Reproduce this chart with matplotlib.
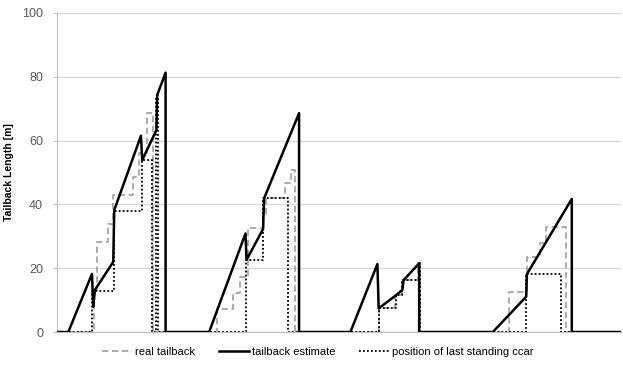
import numpy as np
import matplotlib
matplotlib.use("Agg")
import matplotlib.pyplot as plt

plt.rcParams['font.family'] = ['Liberation Sans', 'DejaVu Sans']

# tailback estimate (piecewise linear, time step / metres)
est_t = [0, 11.3, 35, 36.3, 38, 56.3, 57.3, 84, 85.3, 99.5, 100.3, 108.7, 108.7,
         152.3, 188.7, 189.7, 206.3, 207.3, 242.3, 242.3,
         293.7, 320.7, 322, 339.7, 345.7, 347, 362.5, 362.5,
         436.3, 469.7, 470.3, 515.3, 515.3, 565]
est_v = [0, 0, 18.2, 7.9, 13.2, 22, 38.2, 61.5, 53.9, 63.3, 74.3, 81.3, 0,
         0, 30.9, 22.6, 32.3, 41.9, 68.6, 0,
         0, 21.3, 7.4, 11.6, 13.2, 16.3, 21.5, 0,
         0, 11.1, 18.1, 41.7, 0, 0]

# position of last standing car (steps)
pos_t = [0, 35.3, 57, 84.7, 95.5, 98.8, 100.8, 188.7, 206.3, 231.3,
         322, 339.7, 345.7, 362.3, 363, 469.7, 504, 565]
pos_v = [0, 12.9, 38, 54, 0, 74, 0, 22.6, 42, 0,
         7.4, 11.6, 16.3, 22, 0, 18.1, 0, 0]

# real tailback (steps)
real_t = [0, 37, 40, 51.3, 56.5, 76.3, 82, 89.7, 96.3,
          159.7, 176.3, 183, 191.3, 206.3, 209, 228, 234.7, 238,
          322, 338, 345, 361, 363,
          452, 470, 483, 489.7, 509.7, 565]
real_v = [0, 13.2, 28.3, 34, 43, 48.7, 56, 68.6, 0,
          7.2, 12.1, 17.3, 32.5, 37, 42, 46.6, 50.8, 0,
          7.4, 11.6, 16.3, 21.5, 0,
          12.6, 23.6, 28, 33, 0, 0]

fig = plt.figure(figsize=(6.23, 3.65), dpi=100)
ax = fig.add_axes([0.0915, 0.0904, 0.906, 0.874])

ax.plot(real_t, real_v, drawstyle='steps-post', color='#a6a6a6', lw=1.3,
        ls=(0, (3.5, 2)), label='real tailback', zorder=2)
ax.plot(est_t, est_v, color='black', lw=1.8, label='tailback estimate', zorder=4)
ax.plot(pos_t, pos_v, drawstyle='steps-post', color='black', lw=1.3,
        ls=(0, (1, 1.2)), label='position of last standing ccar', zorder=3)

ax.set_xlim(0, 565)
ax.set_ylim(0, 100)
ax.set_yticks(np.arange(0, 101, 20))
ax.set_xticks([])
ax.grid(axis='y', color='#d9d9d9', lw=1)
ax.set_axisbelow(True)
for s in ['top', 'right']:
    ax.spines[s].set_visible(False)
ax.spines['left'].set_color('#bfbfbf')
ax.spines['bottom'].set_color('#bfbfbf')
ax.tick_params(axis='y', length=3, color='#bfbfbf', labelsize=9,
               labelcolor='#595959', pad=7)
ax.set_ylabel('Tailback Length [m]', fontsize=7.5, fontweight='bold', labelpad=6)

fig.legend(loc='center', bbox_to_anchor=(0.51, 0.036), ncol=3, frameon=False,
           fontsize=8, handlelength=2.7, handletextpad=0.3, columnspacing=2.1)

fig.savefig('out.png', dpi=100)
